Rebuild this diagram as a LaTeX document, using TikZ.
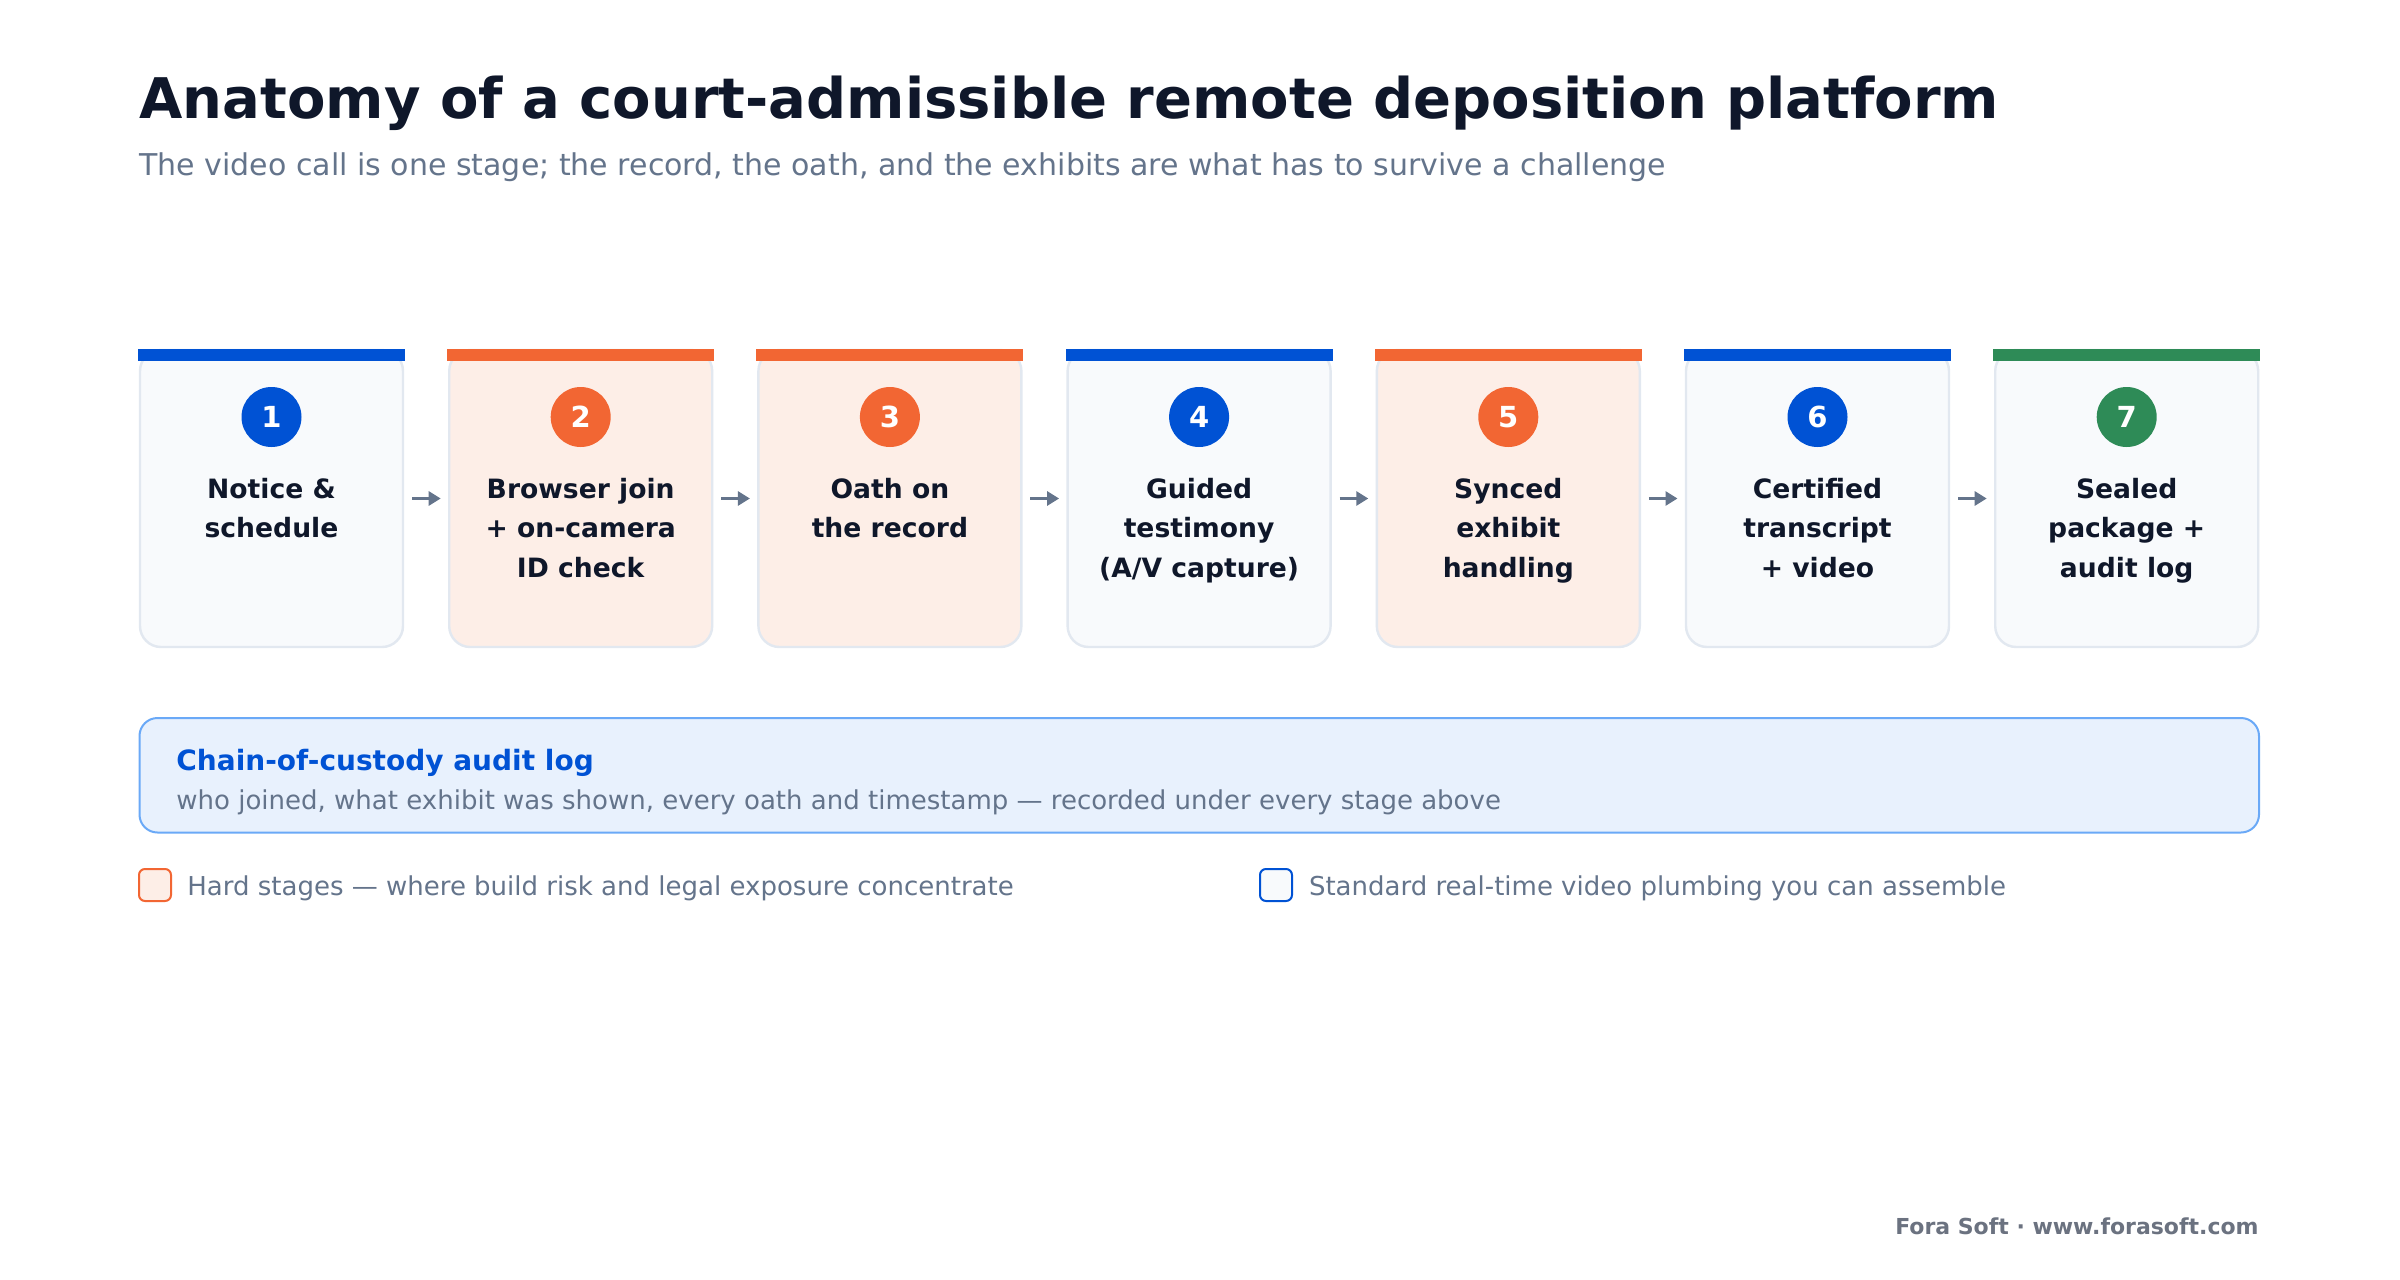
\documentclass[tikz,border=0pt]{standalone}
\usepackage{fontspec}
\setmainfont{DejaVu Sans}
\usetikzlibrary{arrows.meta}
\definecolor{ink}{HTML}{0F172A}
\definecolor{slate}{HTML}{64748B}
\definecolor{cblue}{HTML}{0052D4}
\definecolor{corange}{HTML}{F26633}
\definecolor{cgreen}{HTML}{2E8B57}
\definecolor{softfill}{HTML}{F8FAFC}
\definecolor{hardfill}{HTML}{FDEEE7}
\definecolor{boxline}{HTML}{E2E8F0}
\definecolor{auditfill}{HTML}{E8F1FD}
\definecolor{auditline}{HTML}{6AA9F7}
\definecolor{footgray}{HTML}{6B7280}
\begin{document}
\begin{tikzpicture}[x=0.5pt,y=-0.5pt,
  stagebox/.style={draw=boxline, line width=1.2pt, rounded corners=10.5pt, minimum width=131.5pt, minimum height=148.5pt, inner sep=0pt, outer sep=0pt},
  numdot/.style={circle, minimum size=30pt, inner sep=0pt, text=white, font=\bfseries\fontsize{14.5}{17}\selectfont},
  stagelabel/.style={anchor=north, align=center, inner sep=0pt, text=ink, font=\bfseries\fontsize{13.3}{19.9}\selectfont},
  flow/.style={draw=slate, line width=1.4pt, -{Triangle[length=6pt,width=7pt]}, shorten <=4.5pt, shorten >=4.25pt},
  plaintext/.style={inner sep=0pt, anchor=base west},
  legsq/.style={line width=1pt, rounded corners=3pt, minimum size=16pt, inner sep=0pt}
]
\useasboundingbox (0,0) rectangle (2400,1280);
\fill[white] (0,0) rectangle (2400,1280);

\node[plaintext, font=\bfseries\fontsize{28}{34}\selectfont, text=ink] (title) at (139,118) {Anatomy of a court-admissible remote deposition platform};
\node[plaintext, font=\fontsize{15}{18}\selectfont, text=slate] (subtitle) at (139,175) {The video call is one stage; the record, the oath, and the exhibits are what has to survive a challenge};

\foreach \i/\fillc/\barc/\txt in {
  1/softfill/cblue/{Notice \&\\schedule},
  2/hardfill/corange/{Browser join\\+ on-camera\\ID check},
  3/hardfill/corange/{Oath on\\the record},
  4/softfill/cblue/{Guided\\testimony\\(A/V capture)},
  5/hardfill/corange/{Synced\\exhibit\\handling},
  6/softfill/cblue/{Certified\\transcript\\+ video},
  7/softfill/cgreen/{Sealed\\package +\\audit log}} {
  \pgfmathsetmacro{\cx}{271.5+309.2*(\i-1)}
  \node[stagebox, fill=\fillc] (b\i) at (\cx,498.5) {};
  \fill[\barc] ([xshift=-1pt,yshift=0.6pt]b\i.north west) rectangle ([xshift=1pt,yshift=-5.25pt]b\i.north east);
  \node[numdot, fill=\barc] (n\i) at (\cx,417) {\i};
  \node[stagelabel] (t\i) at (\cx,477.5) {\txt};
}
\foreach \i [evaluate=\i as \j using int(\i+1)] in {1,...,6}
  \draw[flow] (b\i) -- (b\j);

\node[draw=auditline, fill=auditfill, line width=1pt, rounded corners=9pt, minimum width=1059.75pt, minimum height=57.25pt, inner sep=0pt] (audit) at (1199.25,775.25) {};
\node[plaintext, font=\bfseries\fontsize{14}{17}\selectfont, text=cblue] (audittitle) at (176,770) {Chain-of-custody audit log};
\node[plaintext, font=\fontsize{13}{16}\selectfont, text=slate] (auditsub) at (176,809) {who joined, what exhibit was shown, every oath and timestamp — recorded under every stage above};

\node[legsq, draw=corange, fill=hardfill] (lhard) at (155,885) {};
\node[plaintext, font=\fontsize{13}{16}\selectfont, text=slate] (lhardtxt) at (187,895) {Hard stages — where build risk and legal exposure concentrate};
\node[legsq, draw=cblue, fill=softfill] (lstd) at (1276,885) {};
\node[plaintext, font=\fontsize{13}{16}\selectfont, text=slate] (lstdtxt) at (1308.6,895) {Standard real-time video plumbing you can assemble};

\node[inner sep=0pt, anchor=base east, font=\bfseries\fontsize{11}{13}\selectfont, text=footgray] (footer) at (2259,1234) {Fora Soft · www.forasoft.com};
\end{tikzpicture}
\end{document}
